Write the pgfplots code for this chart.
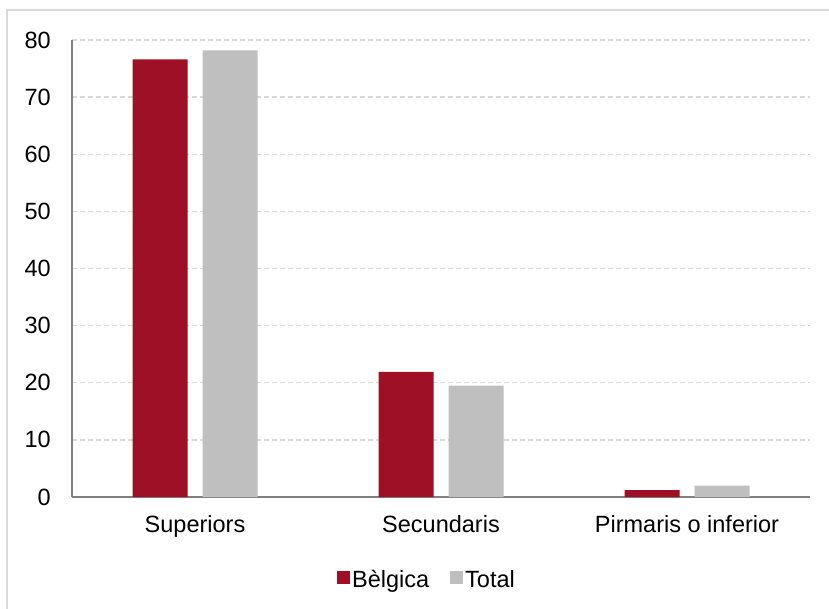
\documentclass[border=0pt]{standalone}
\usepackage{pgfplots}
\pgfplotsset{compat=1.18}
\usepackage{fontspec}
\setmainfont{Liberation Sans}
\definecolor{belgica}{HTML}{9E1025}
\definecolor{total}{HTML}{BFBFBF}
\definecolor{gridc}{HTML}{D9D9D9}
\definecolor{axisc}{HTML}{808080}
\newcommand{\chartfont}{\fontsize{23.5}{27}\selectfont}
\begin{document}
\chartfont
\begin{tikzpicture}
% outer frame (only top and left edges fall inside the picture)
\draw[gridc, line width=2pt] (7pt,-20pt) -- (7pt,598pt) -- (850pt,598pt);
\begin{axis}[
  at={(72pt,111pt)}, anchor=south west,
  scale only axis, width=738pt, height=457pt,
  ybar, bar width=55pt,
  xmin=-0.5, xmax=2.5, ymin=0, ymax=80,
  xtick={0,1,2},
  xticklabels={Superiors,Secundaris,Pirmaris o inferior},
  ytick={0,10,...,80},
  major tick length=0pt,
  axis x line*=bottom, axis y line*=left,
  x axis line style={axisc, line width=2.5pt, -},
  y axis line style={axisc, line width=1.3pt, -},
  ymajorgrids,
  grid style={gridc, line width=1.3pt, dash pattern=on 5pt off 3pt},
  /pgf/number format/assume math mode=true,
  ticklabel style={font=\chartfont},
  yticklabel style={inner sep=0pt, xshift=-21pt},
  xticklabel style={inner sep=0pt, yshift=-18pt},
  legend style={at={(0.481,-0.183)}, anchor=center, draw=none, fill=none,
    legend columns=2, font=\chartfont,
    nodes={inner sep=2pt},
    /tikz/every even column/.append style={column sep=19pt}},
  legend image code/.code={\fill[#1] (0pt,-3.5pt) rectangle (13pt,9.5pt);},
]
\addplot[fill=belgica, draw=none, bar shift=-35pt]
  coordinates {(0,76.6) (1,21.9) (2,1.2)};
\addlegendentry{Bèlgica}
\addplot[fill=total, draw=none, bar shift=35pt]
  coordinates {(0,78.2) (1,19.5) (2,2.0)};
\addlegendentry{Total}
\end{axis}
\pgfresetboundingbox
\path[use as bounding box] (0pt,0pt) rectangle (829pt,608pt);
\end{tikzpicture}
\end{document}
